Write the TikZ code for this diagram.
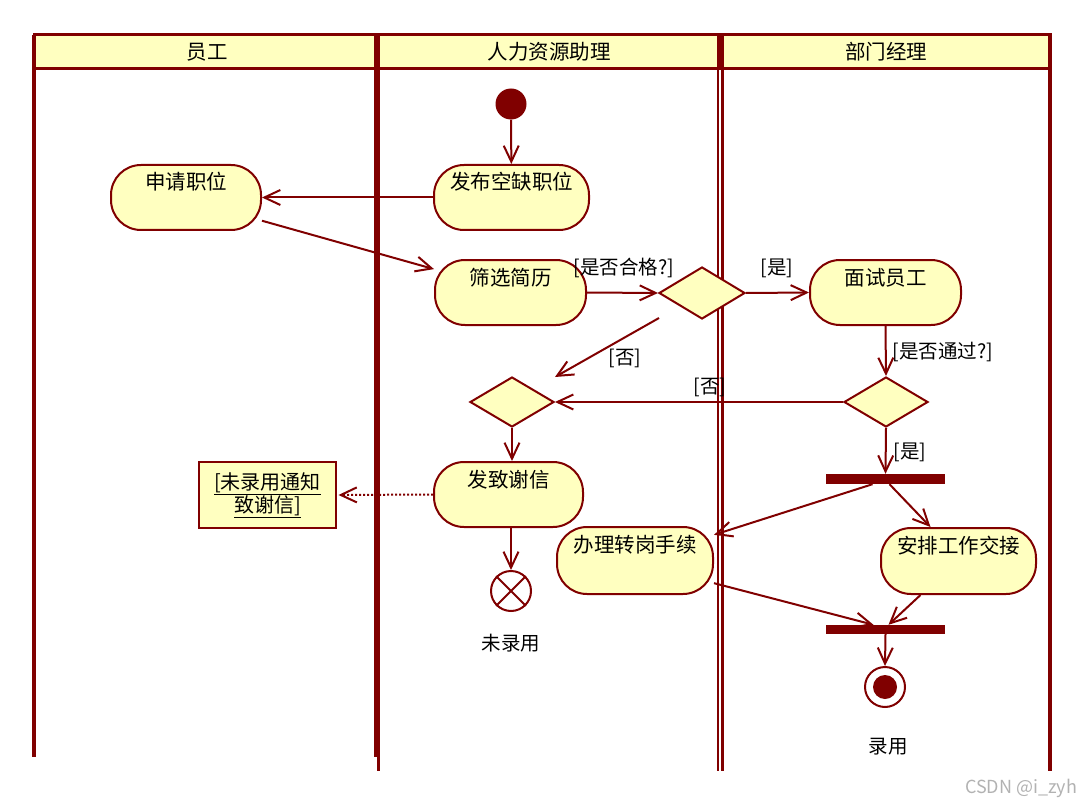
\documentclass[tikz,border=0pt]{standalone}
\usepackage{fontspec}
\setmainfont{Noto Sans CJK SC}
\usetikzlibrary{arrows.meta,shapes.geometric,calc}
\definecolor{dred}{HTML}{800000}
\definecolor{ufill}{HTML}{FFFFC0}
\begin{document}
\begin{tikzpicture}[x=1pt,y=-1pt,
  lane/.style={draw=dred,line width=3.4pt},
  hdr/.style={draw=dred,fill=ufill,line width=3pt},
  act/.style={draw=dred,line width=2pt,fill=ufill,rounded corners=30pt,inner sep=0pt,
    font=\fontsize{20.5}{23}\selectfont,text height=25pt,text depth=40pt},
  dec/.style={diamond,draw=dred,line width=2pt,fill=ufill,inner sep=0pt,minimum width=86pt,minimum height=52pt},
  bar/.style={fill=dred,inner sep=0pt,minimum width=119pt,minimum height=10pt},
  lbl/.style={font=\fontsize{19.5}{22}\selectfont,inner sep=0pt},
  flow/.style={draw=dred,line width=2pt,-{Straight Barb[length=16pt,width=15pt,line width=2pt]}},
  objflow/.style={draw=dred,line width=2pt,dotted,-{Straight Barb[length=16pt,width=15pt,line width=2pt,sep]}},
]
\useasboundingbox (0,0) rectangle (1087,805);
% swimlanes
\draw[hdr] (34,35) rectangle (376,69);
\draw[hdr] (378,35) rectangle (719,69);
\draw[hdr] (721,35) rectangle (1050,69);
\draw[lane] (34,35) -- (34,757);
\draw[lane] (375.5,35) -- (375.5,757);
\draw[lane] (378.5,35) -- (378.5,771);
\draw[dred,line width=2.8pt] (718,35) -- (718,771);
\draw[dred,line width=2.8pt] (722.5,35) -- (722.5,771);
\draw[lane] (1050,35) -- (1050,771);
\node[lbl,font=\fontsize{20.5}{23}\selectfont] (h1) at (207,52) {员工};
\node[lbl,font=\fontsize{20.5}{23}\selectfont] (h2) at (549,52) {人力资源助理};
\node[lbl,font=\fontsize{20.5}{23}\selectfont] (h3) at (886,52) {部门经理};

% nodes
\node[circle,fill=dred,minimum size=31pt,inner sep=0pt] (init) at (511,104) {};
\node[act,minimum width=155pt] (pub) at (511.5,197.5) {发布空缺职位};
\node[act,minimum width=150pt] (apply) at (186,197.5) {申请职位};
\node[act,minimum width=151pt] (screen) at (510.5,292.5) {筛选简历};
\node[dec] (d1) at (702,293) {};
\node[act,minimum width=151pt] (interview) at (885.5,292.5) {面试员工};
\node[dec,minimum width=84pt,minimum height=50pt] (d2) at (512,402) {};
\node[dec,minimum width=84pt,minimum height=50pt] (d3) at (886,402) {};
\node[bar] (fork) at (885.5,479) {};
\node[act,minimum width=149pt] (thanks) at (508.5,494.5) {发致谢信};
\node[draw=dred,line width=2pt,fill=ufill,minimum width=137pt,minimum height=66pt,inner sep=0pt,
  align=center,font=\fontsize{20}{22}\selectfont] (obj) at (267.5,495) {\underline{[未录用通知}\\\underline{致谢信]}};
\node[circle,draw=dred,line width=2pt,fill=white,minimum size=40pt,inner sep=0pt] (ff) at (511,591) {};
\draw[dred,line width=2pt] (ff.45) -- (ff.225) (ff.135) -- (ff.315);
\node[lbl] (ffl) at (511,643) {未录用};
\node[act,minimum width=156pt,text depth=42pt] (transfer) at (635,560.5) {办理转岗手续};
\node[act,minimum width=155pt,text depth=41pt] (handover) at (958.5,561) {安排工作交接};
\node[bar,minimum height=9pt] (join) at (885.5,629.5) {};
\node[circle,draw=dred,line width=2pt,fill=white,minimum size=40pt,inner sep=0pt,
  path picture={\fill[dred] (path picture bounding box.center) circle (12pt);}] (fin) at (885,687) {};
\node[lbl] (finl) at (888,747) {录用};

% edges
\draw[flow] (init) -- (pub);
\draw[flow] (pub.west) -- (apply.east);
\draw[flow] (apply.-17) -- (screen.163);
\draw[flow] (screen.east) -- (d1.west);
\draw[flow] (d1.east) -- (interview.west);
\node[lbl] (lyes1) at (777,268) {[是]};
\node[lbl] (lq1) at (624,268) {[是否合格?]};
\draw[flow] ($(d1.west)+(1,25)$) -- ($(d2.east)+(0,-25)$);
\node[lbl] (lno1) at (625,358) {[否]};
\draw[flow] (d3.west) -- (d2.east);
\node[lbl] (lno2) at (710,387) {[否]};
\draw[flow] (interview.south) -- (d3.north);
\node[lbl] (lq2) at (943,352) {[是否通过?]};
\draw[flow] (d3.south) -- (fork.north);
\node[lbl] (lyes2) at (910,452) {[是]};
\draw[flow] (d2.south) -- (thanks.north -| d2.south);
\draw[objflow] (thanks.west) -- (obj.east);
\draw[flow] (thanks.south -| ff.north) -- (ff.north);
\draw[flow] ($(fork.south)+(-13,0)$) -- (transfer.18.5);
\draw[flow] ($(fork.south)+(4,0)$) -- ($(handover.north)+(-28,0)$);
\draw[flow] (transfer.-16) -- ($(join.north)+(-12,0)$);
\draw[flow] ($(handover.south)+(-38,0)$) -- ($(join.north)+(3,0)$);
\draw[flow] (join.south) -- (fin.north);
\node[font=\fontsize{18}{20}\selectfont,text=black!30,inner sep=0pt] (wm) at (1021,788) {CSDN @i\_zyh};
\end{tikzpicture}
\end{document}
